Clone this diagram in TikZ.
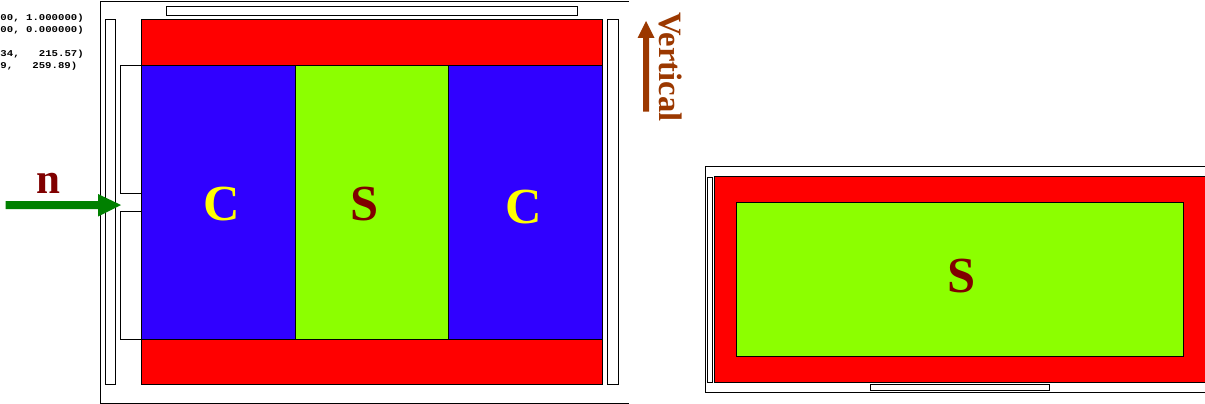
\documentclass[tikz,border=0pt]{standalone}
\usepackage{fontspec}
\setmainfont{Liberation Serif}
\newfontfamily\codefont[FakeStretch=1.2]{Liberation Mono}
\definecolor{regred}{RGB}{255,0,0}
\definecolor{regblue}{RGB}{48,0,255}
\definecolor{reggreen}{RGB}{140,255,0}
\definecolor{arrowgreen}{RGB}{0,128,0}
\definecolor{arrowbrown}{RGB}{155,56,0}
\definecolor{textbrown}{RGB}{128,0,0}
\definecolor{labelyellow}{RGB}{255,255,0}
\tikzset{
  x=1pt,y=-1pt,
  region/.style={draw=black,line width=0.9pt,fill=#1},
  slit/.style={draw=black,line width=0.9pt,fill=white},
  frameline/.style={draw=black,line width=0.9pt},
  biglabel/.style={font=\fontsize{50.5}{50}\selectfont\bfseries,inner sep=0pt},
  code/.style={font=\codefont\bfseries\fontsize{8.9}{9}\selectfont,anchor=east,inner sep=0pt},
}
\begin{document}
\begin{tikzpicture}
\useasboundingbox (0,0) rectangle (1205,404);
% left frame
\draw[frameline] (629,1) -- (100,1) -- (100,403) -- (629,403);
\draw[slit] (166.7,6) rectangle (577,15);
\draw[slit] (105,19) rectangle (115.5,384.7);
\draw[slit] (607.5,19) rectangle (618,384.7);
\draw[slit] (120.5,65) rectangle (141,193);
\draw[slit] (120.5,211) rectangle (141,339.5);
% regions
\draw[region=regred] (141,19) rectangle (602.7,65);
\draw[region=regred] (141,339.5) rectangle (602.7,384.7);
\draw[region=regblue] (141,65) rectangle (295,339.5);
\draw[region=reggreen] (295,65) rectangle (448.5,339.5);
\draw[region=regblue] (448.5,65) rectangle (602.7,339.5);
\node[biglabel,text=labelyellow] (c1) at (221.5,204.5) {C};
\node[biglabel,text=textbrown] (s1) at (364.5,204.5) {S};
\node[biglabel,text=labelyellow] (c2) at (523.5,207.5) {C};
% code text
\node[code] (t1) at (84,18.5) {00, 1.000000)};
\node[code] (t2) at (84,30.5) {00, 0.000000)};
\node[code] (t3) at (84,54) {34,~~~215.57)};
\node[code] (t4) at (77.5,66) {9,~~~259.89)};
% n arrow
\coordinate (na) at (5.5,205);
\coordinate (nb) at (98,205);
\coordinate (nc) at (121,205);
\node[font=\fontsize{43}{42}\selectfont\bfseries,text=textbrown,inner sep=0pt] (n) at (48.3,183) {n};
\fill[arrowgreen] (na) ++(0,-4) -- (98,201) -- (98,194) -- (nc) -- (98,216.5) -- (98,209) -- (5.5,209) -- cycle;
% vertical arrow
\coordinate (va) at (646,111.5);
\coordinate (vc) at (646,21);
\fill[arrowbrown] (643,111.5) -- (643,38) -- (637.5,38) -- (vc) -- (654.5,38) -- (649,38) -- (649,111.5) -- cycle;
\node[font=\fontsize{32.6}{32}\selectfont\bfseries,text=arrowbrown,rotate=-90,inner sep=0pt,anchor=base] (v) at (659.5,67) {Vertical};
% right frame
\draw[frameline] (1205,166) -- (705,166) -- (705,392) -- (1205,392);
\draw[slit] (707.5,177) rectangle (712.5,382);
\draw[slit] (870,384.5) rectangle (1049,390);
\draw[region=regred] (714,176.7) -- (1205,176.7) -- (1205,382) -- (714,382) -- cycle;
\draw[region=reggreen] (736.5,202.5) rectangle (1183,356);
\node[biglabel,text=textbrown] (s2) at (961.5,276.5) {S};
\end{tikzpicture}
\end{document}
